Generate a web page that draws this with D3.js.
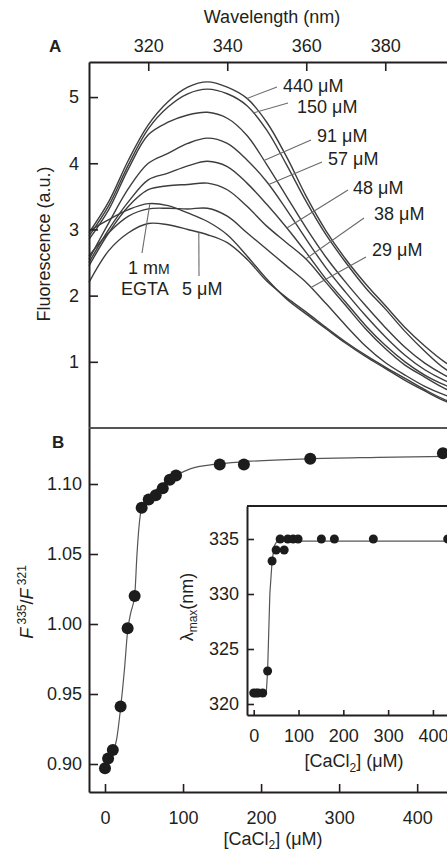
<!DOCTYPE html>
<html>
<head>
<meta charset="utf-8">
<script src="https://cdn.jsdelivr.net/npm/d3@7"></script>
<style>
  html, body { margin: 0; padding: 0; background: #fff; }
  svg { display: block; font-family: "Liberation Sans", Arial, Helvetica, sans-serif; }
  .axis text { font-size: 18px; fill: #231f20; }
  .axis .domain { stroke: #231f20; stroke-width: 2; }
  .axis .tick line { stroke: #231f20; stroke-width: 1.6; }
</style>
</head>
<body>
<svg id="chart" width="447" height="853"></svg>
<script>
  // ---- panel A : emission spectra ----
  var wavelengths = [305, 310, 315, 320, 325, 330, 335, 340, 345, 350, 355, 360, 365, 370, 375, 380, 385, 390, 395, 400]

  var spec440 = [2.95, 3.42, 4.05, 4.58, 4.93, 5.15, 5.23, 5.15, 4.98, 4.62, 4.10, 3.50, 2.98, 2.55, 2.18, 1.85, 1.52, 1.24, 1.00, 0.82]
  var spec150 = [2.90, 3.36, 3.98, 4.52, 4.85, 5.05, 5.12, 5.05, 4.87, 4.50, 3.98, 3.42, 2.92, 2.50, 2.12, 1.80, 1.46, 1.16, 0.90, 0.74]
  var spec91 = [2.85, 3.30, 3.92, 4.43, 4.62, 4.73, 4.77, 4.68, 4.42, 3.98, 3.50, 3.02, 2.58, 2.20, 1.85, 1.52, 1.22, 0.98, 0.80, 0.66]
  var spec57 = [2.55, 3.10, 3.62, 4.00, 4.15, 4.30, 4.38, 4.30, 4.05, 3.72, 3.30, 2.85, 2.42, 2.05, 1.70, 1.38, 1.10, 0.88, 0.72, 0.60]
  var spec48 = [2.50, 3.00, 3.42, 3.75, 3.85, 3.96, 4.03, 3.95, 3.70, 3.38, 3.03, 2.65, 2.25, 1.90, 1.55, 1.25, 1.00, 0.80, 0.65, 0.53]
  var spec38 = [2.45, 2.95, 3.35, 3.60, 3.66, 3.68, 3.70, 3.60, 3.35, 3.05, 2.80, 2.55, 2.20, 1.85, 1.50, 1.20, 0.95, 0.77, 0.60, 0.48]
  var spec29 = [2.60, 2.95, 3.20, 3.31, 3.32, 3.31, 3.32, 3.20, 2.95, 2.70, 2.45, 2.20, 1.88, 1.55, 1.24, 0.99, 0.80, 0.63, 0.50, 0.40]
  var specEGTA = [2.98, 3.15, 3.30, 3.39, 3.36, 3.25, 3.12, 2.92, 2.60, 2.25, 1.95, 1.72, 1.50, 1.28, 1.08, 0.90, 0.72, 0.56, 0.41, 0.30]
  var spec5 = [2.20, 2.68, 2.95, 3.09, 3.07, 3.00, 2.92, 2.80, 2.55, 2.22, 1.97, 1.75, 1.52, 1.30, 1.10, 0.92, 0.75, 0.58, 0.43, 0.33]

  var spectra = [spec440, spec150, spec91, spec57, spec48, spec38, spec29, specEGTA, spec5]
  var spectraLabels = ["440 μM", "150 μM", "91 μM", "57 μM", "48 μM", "38 μM", "29 μM", "", ""]
  // wavelength at which each leader line touches its curve
  var leaderWl = [345, 346.5, 349.3, 350.5, 355.1, 359.9, 361.2, 320.4, 332.8]

  var xTicksA = [320, 340, 360, 380]
  var yTicksA = [1, 2, 3, 4, 5]

  // ---- panel B : F335/F321 vs [CaCl2] ----
  var caConc = [0, 4, 10, 20, 29, 38, 47, 56, 65, 74, 83, 91, 147, 178, 263, 433]
  var ratio = [0.897, 0.904, 0.910, 0.941, 0.997, 1.020, 1.083, 1.089, 1.092, 1.097, 1.103, 1.106, 1.114, 1.114, 1.118, 1.122]
  var fitConc = [0, 5, 10, 15, 20, 25, 29, 33, 38, 41, 44, 47, 52, 60, 70, 80, 90, 110, 140, 180, 260, 350, 470]
  var fitRatio = [0.898, 0.902, 0.908, 0.918, 0.940, 0.968, 0.995, 1.008, 1.020, 1.050, 1.072, 1.083, 1.088, 1.093, 1.098, 1.103, 1.106, 1.111, 1.114, 1.116, 1.118, 1.119, 1.120]
  var xTicksB = [0, 100, 200, 300, 400]
  var yTicksB = [0.90, 0.95, 1.00, 1.05, 1.10]

  // ---- inset : lambda max ----
  var insetConc = [0, 5, 10, 20, 31, 41, 50, 59, 68, 76, 88, 99, 151, 180, 267, 433]
  var lambdaMax = [321, 321, 321, 321, 323, 333, 334, 335, 334, 335, 335, 335, 335, 335, 335, 335]
  var lamFitConc = [0, 28, 31, 36, 41, 46, 52, 480]
  var lamFitVal = [321, 321, 323, 330, 333, 334.4, 334.8, 334.8]
  var xTicksI = [0, 100, 200, 300, 400]
  var yTicksI = [320, 325, 330, 335]

  var svg = d3.select('#chart')
  var ink = '#231f20'

  // scales
  var xA = d3.scaleLinear().domain([305, 400]).range([89, 464.25])
  var yA = d3.scaleLinear().domain([0, 5.53]).range([428, 62])
  var xB = d3.scaleLinear().domain([-20.5, 460]).range([89, 464])
  var yB = d3.scaleLinear().domain([0.88, 1.14]).range([792, 428])
  var xI = d3.scaleLinear().domain([-15, 470]).range([247, 464.3])
  var yI = d3.scaleLinear().domain([319, 338]).range([715, 506])

  function valueAt(vals, wl) {
    var i = Math.max(0, Math.min(wavelengths.length - 2, d3.bisectRight(wavelengths, wl) - 1))
    var t = (wl - wavelengths[i]) / (wavelengths[i + 1] - wavelengths[i])
    return vals[i] + t * (vals[i + 1] - vals[i])
  }

  // ---------- panel A ----------
  var lineA = d3.line()
    .x(function (d, i) { return xA(wavelengths[i]) })
    .y(function (d) { return yA(d) })
    .curve(d3.curveCatmullRom.alpha(0.5))

  svg.append('g')
    .selectAll('path')
    .data(spectra)
    .enter().append('path')
    .attr('d', lineA)
    .attr('fill', 'none')
    .attr('stroke', '#3d3d3d')
    .attr('stroke-width', 1.4)

  // label text positions (pixels)
  var labelPos = [
    { lx: 277, ly: 87, tx: 283, ty: 92 },
    { lx: 288, ly: 103, tx: 297, ty: 113 },
    { lx: 311, ly: 140, tx: 317, ty: 142 },
    { lx: 322, ly: 162, tx: 328, ty: 165 },
    { lx: 348, ly: 190, tx: 353, ty: 194 },
    { lx: 364, ly: 218, tx: 374, ty: 220 },
    { lx: 366, ly: 257, tx: 372, ty: 256 },
    { lx: 142, ly: 253 },
    { lx: 199, ly: 276 }
  ]

  svg.append('g')
    .selectAll('line')
    .data(spectra)
    .enter().append('line')
    .attr('x1', function (d, i) { return xA(leaderWl[i]) })
    .attr('y1', function (d, i) { return yA(valueAt(d, leaderWl[i])) })
    .attr('x2', function (d, i) { return labelPos[i].lx })
    .attr('y2', function (d, i) { return labelPos[i].ly })
    .attr('stroke', '#6a6a6a')
    .attr('stroke-width', 1.1)

  svg.append('g')
    .selectAll('text')
    .data(spectraLabels.slice(0, 7))
    .enter().append('text')
    .attr('x', function (d, i) { return labelPos[i].tx })
    .attr('y', function (d, i) { return labelPos[i].ty })
    .attr('font-size', 18)
    .attr('fill', ink)
    .text(function (d) { return d })

  var egta = svg.append('text').attr('x', 128).attr('y', 274).attr('font-size', 18).attr('fill', ink)
  egta.append('tspan').text('1 m')
  egta.append('tspan').attr('font-size', 14).text('M')
  svg.append('text').attr('x', 121).attr('y', 295).attr('font-size', 18).attr('fill', ink).text('EGTA')
  svg.append('text').attr('x', 182).attr('y', 295).attr('font-size', 18).attr('fill', ink).text('5 μM')

  // axes A
  svg.append('g')
    .attr('class', 'axis')
    .attr('transform', 'translate(0,62)')
    .call(d3.axisTop(xA).tickValues(xTicksA).tickSize(-9).tickSizeOuter(0).tickPadding(10).tickFormat(d3.format('d')))

  svg.append('g')
    .attr('class', 'axis')
    .attr('transform', 'translate(89,0)')
    .call(d3.axisLeft(yA).tickValues(yTicksA).tickSize(-9).tickSizeOuter(0).tickPadding(10).tickFormat(d3.format('d')))

  svg.append('text')
    .attr('x', 272).attr('y', 23)
    .attr('text-anchor', 'middle')
    .attr('font-size', 18).attr('fill', ink)
    .text('Wavelength (nm)')

  svg.append('text')
    .attr('transform', 'translate(50,244) rotate(-90)')
    .attr('text-anchor', 'middle')
    .attr('font-size', 18).attr('fill', ink)
    .text('Fluorescence (a.u.)')

  svg.append('text').attr('x', 49).attr('y', 52)
    .attr('font-size', 17).attr('font-weight', 'bold').attr('fill', ink).text('A')

  // ---------- panel B ----------
  svg.append('line')
    .attr('x1', 89).attr('x2', 447)
    .attr('y1', 428).attr('y2', 428)
    .attr('stroke', '#555').attr('stroke-width', 2)

  var lineB = d3.line()
    .x(function (d, i) { return xB(fitConc[i]) })
    .y(function (d) { return yB(d) })
    .curve(d3.curveMonotoneX)

  svg.append('path')
    .datum(fitRatio)
    .attr('d', lineB)
    .attr('fill', 'none')
    .attr('stroke', '#555')
    .attr('stroke-width', 1.2)

  svg.append('g')
    .selectAll('circle')
    .data(ratio)
    .enter().append('circle')
    .attr('cx', function (d, i) { return xB(caConc[i]) })
    .attr('cy', function (d) { return yB(d) })
    .attr('r', 6)
    .attr('fill', '#1c1c1c')

  var axisBx = svg.append('g')
    .attr('class', 'axis')
    .attr('transform', 'translate(0,792)')
    .call(d3.axisBottom(xB).tickValues(xTicksB).tickSize(-8).tickSizeOuter(0).tickPadding(19).tickFormat(d3.format('d')))
  axisBx.select('.domain').attr('stroke', '#777').attr('stroke-width', 1.2)

  svg.append('g')
    .attr('class', 'axis')
    .attr('transform', 'translate(89,0)')
    .call(d3.axisLeft(yB).tickValues(yTicksB).tickSize(-9).tickSizeOuter(0).tickPadding(7).tickFormat(d3.format('.2f')))

  var labB = svg.append('text')
    .attr('transform', 'translate(33,602) rotate(-90)')
    .attr('text-anchor', 'middle')
    .attr('font-size', 18).attr('fill', ink)
  labB.append('tspan').attr('font-style', 'italic').text('F')
  labB.append('tspan').attr('font-size', 12).attr('dy', -7).text(' 335')
  labB.append('tspan').attr('dy', 7).text('/')
  labB.append('tspan').attr('font-style', 'italic').text('F')
  labB.append('tspan').attr('font-size', 12).attr('dy', -7).text(' 321')

  var labBx = svg.append('text')
    .attr('x', 273).attr('y', 845)
    .attr('text-anchor', 'middle')
    .attr('font-size', 18).attr('fill', ink)
  labBx.append('tspan').text('[CaCl')
  labBx.append('tspan').attr('font-size', 12).attr('dy', 4).text('2')
  labBx.append('tspan').attr('dy', -4).text('] (μM)')

  svg.append('text').attr('x', 52).attr('y', 448)
    .attr('font-size', 17).attr('font-weight', 'bold').attr('fill', ink).text('B')

  // ---------- inset ----------
  svg.append('line')
    .attr('x1', 247).attr('x2', 447)
    .attr('y1', 506).attr('y2', 506)
    .attr('stroke', ink).attr('stroke-width', 2)

  var lineI = d3.line()
    .x(function (d, i) { return xI(lamFitConc[i]) })
    .y(function (d) { return yI(d) })

  svg.append('path')
    .datum(lamFitVal)
    .attr('d', lineI)
    .attr('fill', 'none')
    .attr('stroke', '#555')
    .attr('stroke-width', 1.2)

  svg.append('g')
    .selectAll('circle')
    .data(lambdaMax)
    .enter().append('circle')
    .attr('cx', function (d, i) { return xI(insetConc[i]) })
    .attr('cy', function (d) { return yI(d) })
    .attr('r', 4.5)
    .attr('fill', '#1c1c1c')

  svg.append('g')
    .attr('class', 'axis')
    .attr('transform', 'translate(0,715)')
    .call(d3.axisBottom(xI).tickValues(xTicksI).tickSize(-5).tickSizeOuter(0).tickPadding(14).tickFormat(d3.format('d')))

  svg.append('g')
    .attr('class', 'axis')
    .attr('transform', 'translate(247,0)')
    .call(d3.axisLeft(yI).tickValues(yTicksI).tickSize(-7).tickSizeOuter(0).tickPadding(8).tickFormat(d3.format('d')))

  var labI = svg.append('text')
    .attr('transform', 'translate(193,607) rotate(-90)')
    .attr('text-anchor', 'middle')
    .attr('font-size', 18).attr('fill', ink)
  labI.append('tspan').text('λ')
  labI.append('tspan').attr('font-size', 12).attr('dy', 4).text('max')
  labI.append('tspan').attr('dy', -4).text('(nm)')

  var labIx = svg.append('text')
    .attr('x', 354).attr('y', 767)
    .attr('text-anchor', 'middle')
    .attr('font-size', 18).attr('fill', ink)
  labIx.append('tspan').text('[CaCl')
  labIx.append('tspan').attr('font-size', 12).attr('dy', 5).text('2')
  labIx.append('tspan').attr('dy', -5).text('] (μM)')
</script>
</body>
</html>
